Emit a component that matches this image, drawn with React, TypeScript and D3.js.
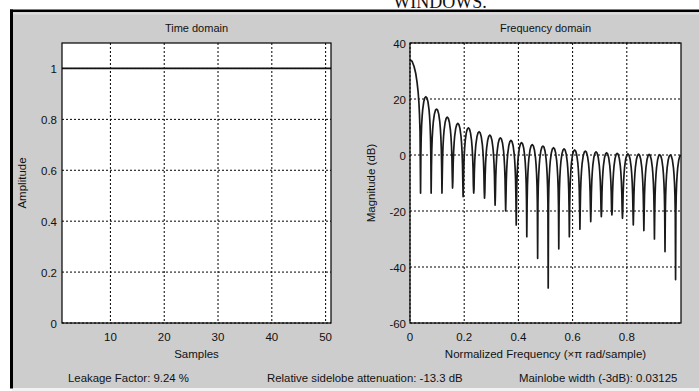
import React from "react";
import * as d3 from "d3";

const width = 699;
const height = 391;

// time domain: rectangular window, 51 samples
const timeAmplitude = [
  1, 1, 1, 1, 1, 1, 1, 1, 1, 1,
  1, 1, 1, 1, 1, 1, 1, 1, 1, 1,
  1, 1, 1, 1, 1, 1, 1, 1, 1, 1,
  1, 1, 1, 1, 1, 1, 1, 1, 1, 1,
  1, 1, 1, 1, 1, 1, 1, 1, 1, 1,
  1,
];
const timeXTicks = [10, 20, 30, 40, 50];
const timeYTicks = [0, 0.2, 0.4, 0.6, 0.8, 1];

// frequency domain (normalized freq, dB)
const freqXTicks = [0, 0.2, 0.4, 0.6, 0.8];
const freqYTicks = [-60, -40, -20, 0, 20, 40];

const mainLobe: [number, number][] = [
  [0, 34.1], [0.008, 33.4], [0.015, 31.6], [0.021, 29.2], [0.026, 26],
  [0.03, 22.5], [0.033, 18.5], [0.035, 14.5], [0.037, 8.5],
];
const nullFreqs = [
  0.039, 0.078, 0.118, 0.157, 0.196, 0.235, 0.275, 0.314, 0.353, 0.392,
  0.431, 0.471, 0.51, 0.549, 0.588, 0.627, 0.667, 0.706, 0.745, 0.784,
  0.824, 0.863, 0.902, 0.941, 0.98,
];
const nullDepths = [
  -13.6, -13.6, -13.6, -11.8, -14.9, -13.6, -15.4, -17.9, -20, -25,
  -29.2, -36.9, -47.5, -33.5, -29.2, -26.5, -23.8, -22, -21.4, -22.6,
  -25, -27, -30, -34.5, -44.5,
];
// sidelobe peaks, the lobe right of each null
const lobePeaks = [
  20.8, 16.4, 13.5, 11.3, 9.7, 8.3, 7.1, 6.1, 5.2, 4.4,
  3.7, 3.2, 2.6, 2.2, 1.8, 1.4, 1.1, 0.8, 0.6, 0.4,
  0.3, 0.2, 0.1, 0.0, 0.0,
];
// arch shape of one sidelobe: [fraction of lobe width, dB under peak]
const lobeProfile: [number, number][] = [
  [0.03, -20.5], [0.06, -14.5], [0.1, -10.2], [0.15, -6.9], [0.2, -4.6],
  [0.3, -1.8], [0.4, -0.4], [0.5, 0], [0.6, -0.4], [0.7, -1.8],
  [0.8, -4.6], [0.85, -6.9], [0.9, -10.2], [0.94, -14.5], [0.97, -20.5],
];

const font = "'Liberation Sans', Arial, sans-serif";

// plot boxes
const tBox = { left: 62, right: 331, top: 43, bottom: 323 };
const fBox = { left: 410, right: 681, top: 43, bottom: 323 };

function App() {
  const tx = d3.scaleLinear().domain([1, 51]).range([tBox.left, tBox.right]);
  const ty = d3.scaleLinear().domain([0, 1.1]).range([tBox.bottom, tBox.top]);
  const fx = d3.scaleLinear().domain([0, 1]).range([fBox.left, fBox.right]);
  const fy = d3.scaleLinear().domain([-60, 40]).range([fBox.bottom, fBox.top]);

  const timeLine = d3
    .line<number>()
    .x((d, i) => tx(i + 1))
    .y((d) => ty(d))(timeAmplitude);

  // build the magnitude curve from the read values
  const freqPoints: [number, number][] = [...mainLobe];
  nullFreqs.forEach((f0, i) => {
    freqPoints.push([f0, nullDepths[i]]);
    const f1 = i < nullFreqs.length - 1 ? nullFreqs[i + 1] : f0 + (f0 - nullFreqs[i - 1]);
    const floor = Math.max(nullDepths[i], i + 1 < nullDepths.length ? nullDepths[i + 1] : -99);
    lobeProfile.forEach(([t, d]) => {
      const f = f0 + t * (f1 - f0);
      if (f > 1) return;
      freqPoints.push([f, Math.max(lobePeaks[i] + d, floor)]);
    });
  });
  const freqLine = d3
    .line<[number, number]>()
    .x((d) => fx(d[0]))
    .y((d) => fy(d[1]))(freqPoints);

  const gridStyle = { stroke: "#000", strokeWidth: 1, strokeDasharray: "2,2" };

  return (
    <svg
      width={width}
      height={height}
      style={{ position: "absolute", left: 0, top: 0, background: "#fff" }}
      fontFamily={font}
    >
      <text x={440} y={8} textAnchor="middle" fontFamily="'Liberation Serif', 'Times New Roman', serif" fontSize={18} fill="#111">
        WINDOWS.
      </text>

      {/* window panel */}
      <rect x={12} y={12} width={687} height={376} fill="#cdcdcd" />
      <rect x={12} y={388} width={687} height={3} fill="#f2f2f2" />
      <line x1={12} x2={699} y1={13.5} y2={13.5} stroke="#dedede" strokeWidth={2} />
      <rect x={10} y={9.5} width={689} height={2.5} fill="#000" />
      <rect x={10} y={9.5} width={3} height={379} fill="#000" />

      {/* time domain */}
      <text x={(tBox.left + tBox.right) / 2} y={32} textAnchor="middle" fontSize={11} fill="#111">
        Time domain
      </text>
      <rect x={tBox.left} y={tBox.top} width={tBox.right - tBox.left} height={tBox.bottom - tBox.top} fill="#fff" />
      {timeXTicks.map((t) => (
        <line key={"tgx" + t} x1={tx(t)} x2={tx(t)} y1={tBox.top} y2={tBox.bottom} style={gridStyle} />
      ))}
      {timeYTicks.map((t) => (
        <line key={"tgy" + t} x1={tBox.left} x2={tBox.right} y1={ty(t)} y2={ty(t)} style={gridStyle} />
      ))}
      <path d={timeLine ?? ""} fill="none" stroke="#111" strokeWidth={1.8} />
      <rect x={tBox.left} y={tBox.top} width={tBox.right - tBox.left} height={tBox.bottom - tBox.top} fill="none" stroke="#000" strokeWidth={1.2} />
      {timeXTicks.map((t) => (
        <text key={"txl" + t} x={tx(t)} y={341} textAnchor="middle" fontSize={11.5} fill="#111">
          {t}
        </text>
      ))}
      {timeYTicks.map((t) => (
        <text key={"tyl" + t} x={tBox.left - 5} y={ty(t) + 4.5} textAnchor="end" fontSize={11.5} fill="#111">
          {t}
        </text>
      ))}
      <text x={(tBox.left + tBox.right) / 2} y={358} textAnchor="middle" fontSize={11.5} fill="#111">
        Samples
      </text>
      <text
        transform={`translate(26,${(tBox.top + tBox.bottom) / 2}) rotate(-90)`}
        textAnchor="middle"
        fontSize={11.5}
        fill="#111"
      >
        Amplitude
      </text>

      {/* frequency domain */}
      <text x={(fBox.left + fBox.right) / 2} y={32} textAnchor="middle" fontSize={11} fill="#111">
        Frequency domain
      </text>
      <defs>
        <clipPath id="fclip">
          <rect x={fBox.left} y={fBox.top} width={fBox.right - fBox.left} height={fBox.bottom - fBox.top} />
        </clipPath>
      </defs>
      <rect x={fBox.left} y={fBox.top} width={fBox.right - fBox.left} height={fBox.bottom - fBox.top} fill="#fff" />
      {freqXTicks.map((t) => (
        <line key={"fgx" + t} x1={fx(t)} x2={fx(t)} y1={fBox.top} y2={fBox.bottom} style={gridStyle} />
      ))}
      {freqYTicks.map((t) => (
        <line key={"fgy" + t} x1={fBox.left} x2={fBox.right} y1={fy(t)} y2={fy(t)} style={gridStyle} />
      ))}
      <path d={freqLine ?? ""} fill="none" stroke="#1a1a1a" strokeWidth={1.7} strokeLinejoin="round" clipPath="url(#fclip)" />
      <rect x={fBox.left} y={fBox.top} width={fBox.right - fBox.left} height={fBox.bottom - fBox.top} fill="none" stroke="#000" strokeWidth={1.2} />
      {freqXTicks.map((t) => (
        <text key={"fxl" + t} x={fx(t)} y={341} textAnchor="middle" fontSize={11.5} fill="#111">
          {t}
        </text>
      ))}
      {freqYTicks.map((t) => (
        <text key={"fyl" + t} x={fBox.left - 4} y={fy(t) + 4.5} textAnchor="end" fontSize={11.5} fill="#111">
          {t}
        </text>
      ))}
      <text x={(fBox.left + fBox.right) / 2} y={358} textAnchor="middle" fontSize={11.5} fill="#111">
        Normalized Frequency  (×π rad/sample)
      </text>
      <text
        transform={`translate(375,${(fBox.top + fBox.bottom) / 2}) rotate(-90)`}
        textAnchor="middle"
        fontSize={11.5}
        fill="#111"
      >
        Magnitude (dB)
      </text>

      {/* status line */}
      <text x={68} y={382} fontSize={11.4} fill="#111">Leakage Factor: 9.24 %</text>
      <text x={267} y={382} fontSize={11.4} fill="#111">Relative sidelobe attenuation: -13.3 dB</text>
      <text x={519} y={382} fontSize={11.4} fill="#111">Mainlobe width (-3dB): 0.03125</text>
    </svg>
  );
}

export default App;
